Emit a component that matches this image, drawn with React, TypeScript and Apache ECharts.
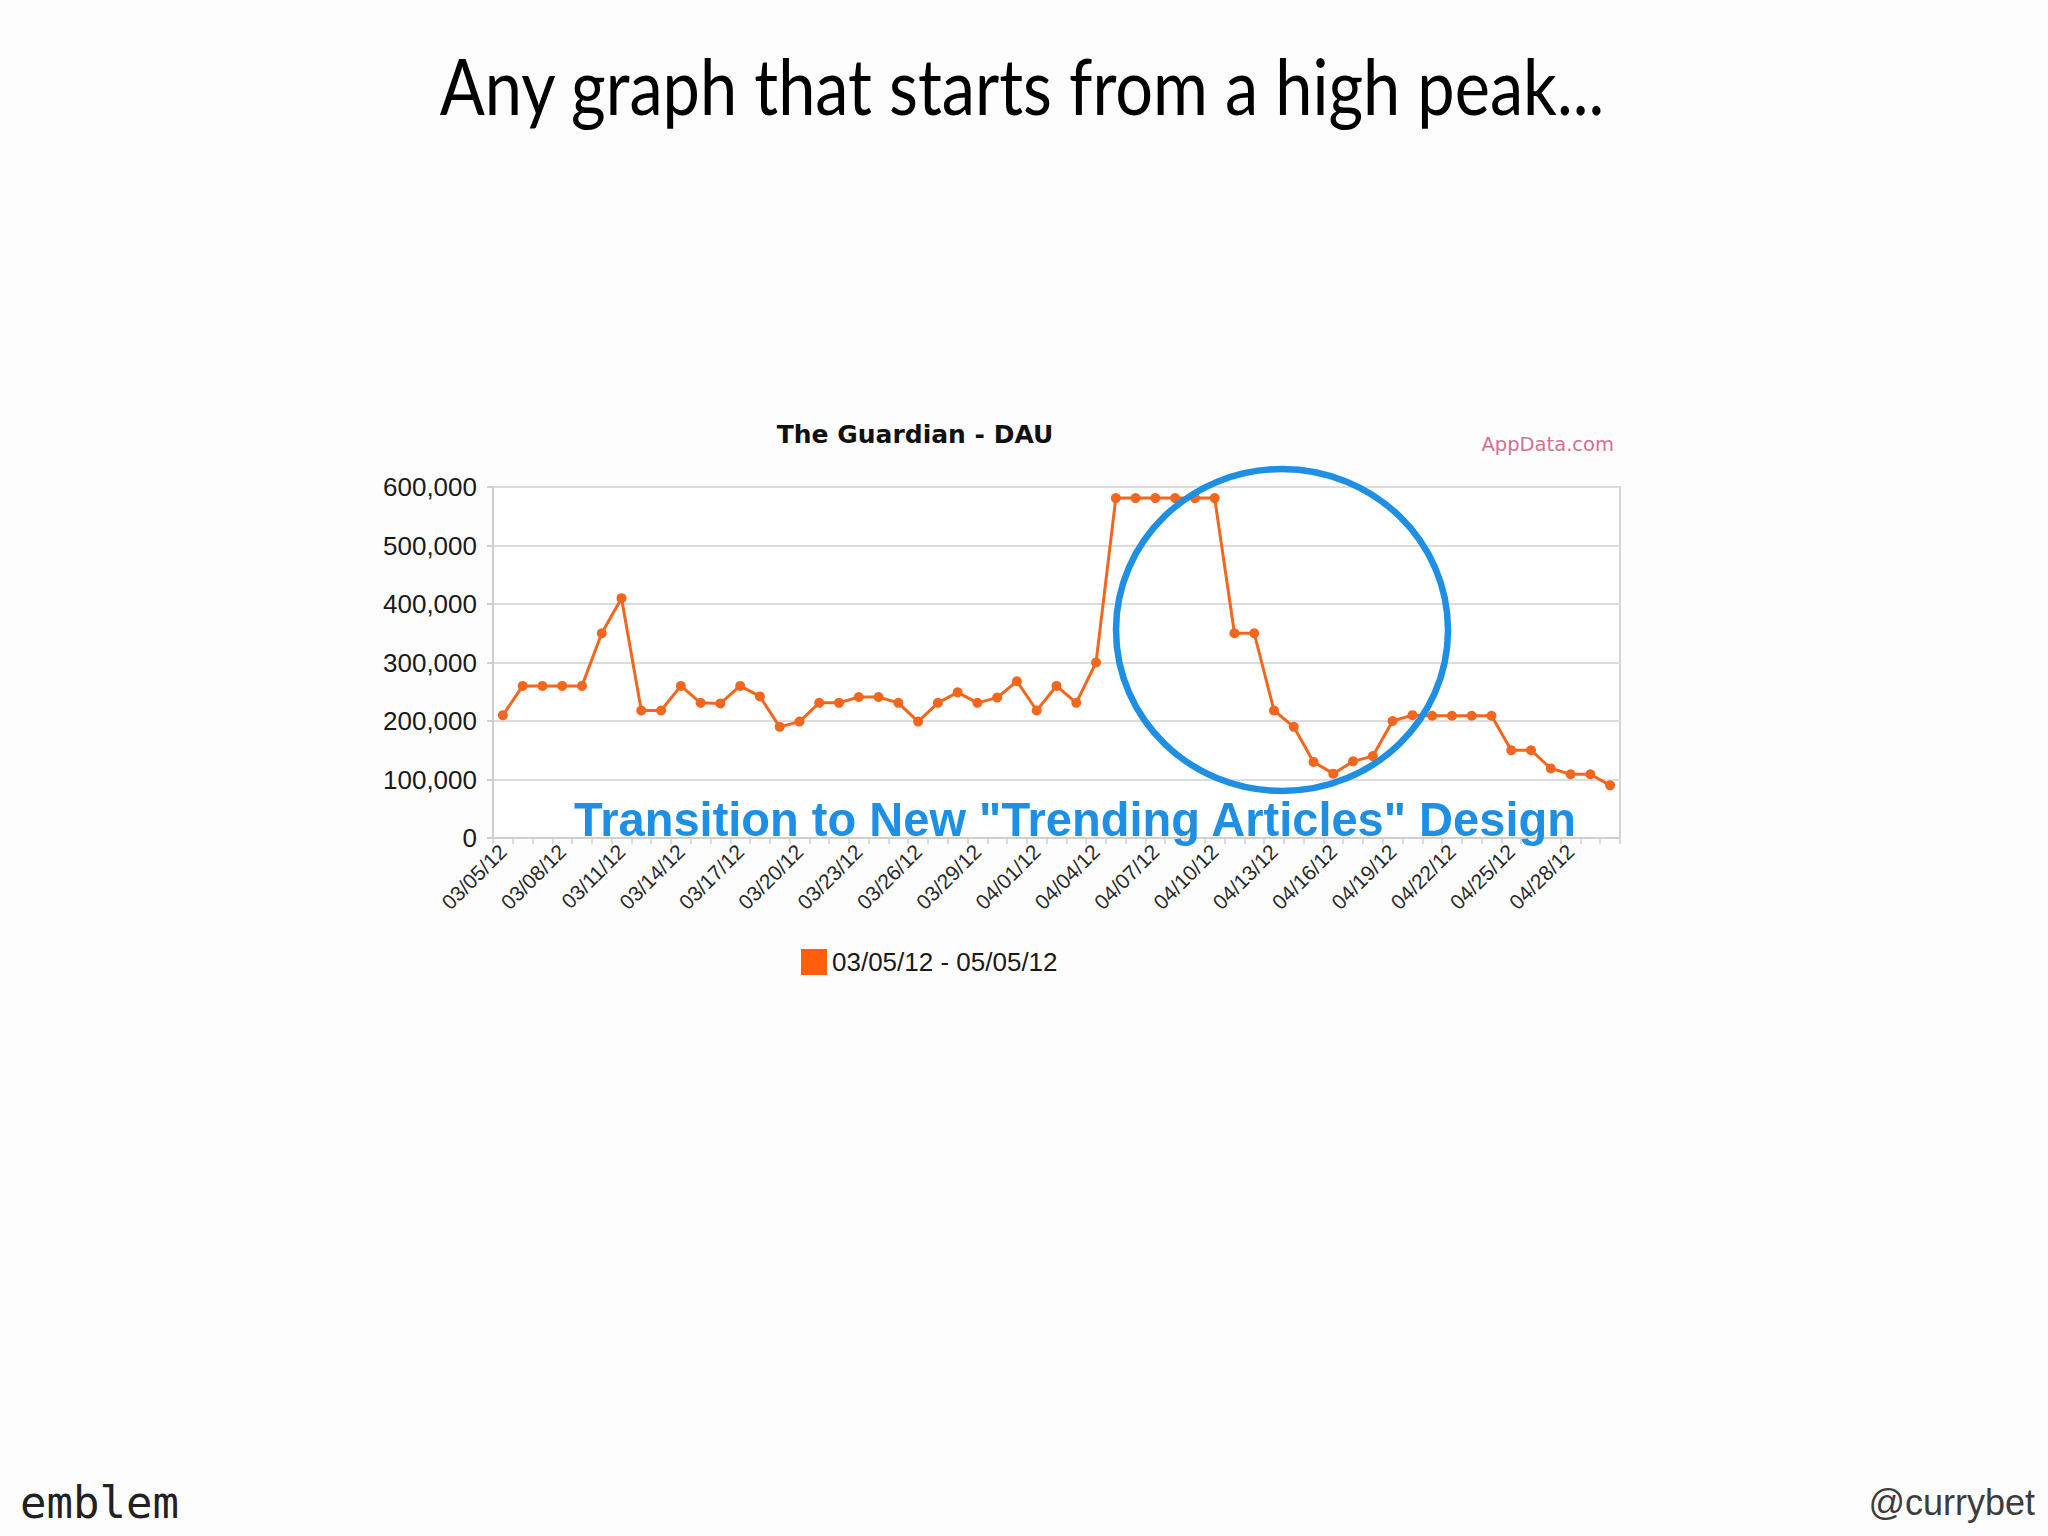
import React, { useEffect, useRef } from "react";
import * as echarts from "echarts";

const dates: string[] = [
  "03/05/12", "03/06/12", "03/07/12", "03/08/12", "03/09/12", "03/10/12", "03/11/12",
  "03/12/12", "03/13/12", "03/14/12", "03/15/12", "03/16/12", "03/17/12", "03/18/12",
  "03/19/12", "03/20/12", "03/21/12", "03/22/12", "03/23/12", "03/24/12", "03/25/12",
  "03/26/12", "03/27/12", "03/28/12", "03/29/12", "03/30/12", "03/31/12", "04/01/12",
  "04/02/12", "04/03/12", "04/04/12", "04/05/12", "04/06/12", "04/07/12", "04/08/12",
  "04/09/12", "04/10/12", "04/11/12", "04/12/12", "04/13/12", "04/14/12", "04/15/12",
  "04/16/12", "04/17/12", "04/18/12", "04/19/12", "04/20/12", "04/21/12", "04/22/12",
  "04/23/12", "04/24/12", "04/25/12", "04/26/12", "04/27/12", "04/28/12", "04/29/12",
  "04/30/12",
];

const dau: number[] = [
  210000, 260000, 260000, 260000, 260000, 350000, 410000,
  218000, 218000, 260000, 231000, 230000, 260000, 242000,
  190000, 199000, 231000, 231000, 241000, 241000, 231000,
  199000, 231000, 249000, 231000, 240000, 268000, 218000,
  260000, 231000, 300000, 581000, 581000, 581000, 581000,
  581000, 581000, 350000, 350000, 218000, 190000, 130000,
  110000, 131000, 140000, 200000, 210000, 209000, 209000,
  209000, 209000, 150000, 150000, 119000, 109000, 109000,
  90000,
];

const yTicks = { min: 0, max: 600000, interval: 100000 };
const seriesName = "03/05/12 - 05/05/12";
const slideTitle = "Any graph that starts from a high peak...";
const chartTitle = "The Guardian - DAU";
const sourceNote = "AppData.com";
const annotation = 'Transition to New "Trending Articles" Design';
const footerLeft = "emblem";
const footerRight = "@currybet";

const ORANGE = "#f2661e";
const BLUE = "#1f8fe3";

export default function App() {
  const ref = useRef<HTMLDivElement>(null);

  useEffect(() => {
    if (!ref.current) return;
    const chart = echarts.init(ref.current, undefined, { renderer: "svg" });
    chart.setOption({
      animation: false,
      backgroundColor: "#fefdfd",
      title: {
        text: chartTitle,
        left: 910,
        top: 417,
        textAlign: "center",
        textStyle: {
          fontFamily: "DejaVu Sans",
          fontWeight: "bold",
          fontSize: 25,
          color: "#111",
        },
      },
      legend: {
        left: 796,
        top: 944,
        icon: "rect",
        itemWidth: 26,
        itemHeight: 26,
        textStyle: {
          fontFamily: "Liberation Sans",
          fontSize: 26,
          color: "#1a1a1a",
        },
        data: [{ name: seriesName, itemStyle: { color: "#ff5e0e" } }],
      },
      grid: {
        left: 493,
        top: 487,
        right: 428,
        bottom: 698,
        show: true,
        borderColor: "#d4d4d4",
        borderWidth: 2,
        backgroundColor: "#ffffff",
      },
      xAxis: {
        type: "category",
        data: dates,
        boundaryGap: true,
        axisLine: { lineStyle: { color: "#cfcfcf", width: 2 } },
        axisTick: {
          show: true,
          interval: 0,
          length: 6,
          lineStyle: { color: "#cfcfcf", width: 1.5 },
        },
        axisLabel: {
          interval: 2,
          rotate: 45,
          margin: 10,
          fontFamily: "Liberation Sans",
          fontSize: 21,
          color: "#2a2a2a",
        },
        splitLine: { show: false },
      },
      yAxis: {
        type: "value",
        min: yTicks.min,
        max: yTicks.max,
        interval: yTicks.interval,
        axisLine: { show: true, lineStyle: { color: "#cfcfcf", width: 2 } },
        axisTick: { show: true, length: 6, lineStyle: { color: "#cfcfcf", width: 2 } },
        axisLabel: {
          margin: 16,
          fontFamily: "Liberation Sans",
          fontSize: 26,
          color: "#1a1a1a",
          formatter: (v: number) => v.toLocaleString("en-US"),
        },
        splitLine: { lineStyle: { color: "#dcdcdc", width: 2 } },
      },
      series: [
        {
          name: seriesName,
          type: "line",
          data: dau,
          symbol: "circle",
          symbolSize: 10,
          lineStyle: { color: ORANGE, width: 3 },
          itemStyle: { color: ORANGE },
          z: 3,
        },
      ],
      graphic: [
        {
          type: "text",
          x: 1022,
          y: 84,
          scaleX: 0.855,
          style: {
            text: slideTitle,
            fontFamily: "Lato",
            fontSize: 78,
            fill: "#000",
            textAlign: "center",
            align: "center",
            textVerticalAlign: "middle",
            verticalAlign: "middle",
          },
        },
        {
          type: "text",
          x: 1614,
          y: 444,
          style: {
            text: sourceNote,
            fontFamily: "DejaVu Sans",
            fontSize: 19.5,
            fill: "#d5708f",
            textAlign: "right",
            align: "right",
            textVerticalAlign: "middle",
            verticalAlign: "middle",
          },
        },
        {
          type: "ellipse",
          z: 10,
          shape: { cx: 1282, cy: 630, rx: 166, ry: 161 },
          style: { fill: "none", stroke: BLUE, lineWidth: 6.5 },
        },
        {
          type: "text",
          z: 10,
          x: 1075,
          y: 819,
          scaleX: 0.96,
          style: {
            text: annotation,
            fontFamily: "Liberation Sans",
            fontWeight: "bold",
            fontSize: 49,
            fill: BLUE,
            textAlign: "center",
            align: "center",
            textVerticalAlign: "middle",
            verticalAlign: "middle",
          },
        },
        {
          type: "text",
          x: 20,
          y: 1502,
          style: {
            text: footerLeft,
            fontFamily: "DejaVu Sans Mono",
            fontSize: 44,
            fill: "#222",
            textAlign: "left",
            align: "left",
            textVerticalAlign: "middle",
            verticalAlign: "middle",
          },
        },
        {
          type: "text",
          x: 2035,
          y: 1502,
          style: {
            text: footerRight,
            fontFamily: "Liberation Sans",
            fontSize: 36,
            fill: "#3c3c3c",
            textAlign: "right",
            align: "right",
            textVerticalAlign: "middle",
            verticalAlign: "middle",
          },
        },
      ],
    });
    return () => chart.dispose();
  }, []);

  return (
    <div
      ref={ref}
      style={{ position: "absolute", left: 0, top: 0, width: 2048, height: 1536 }}
    />
  );
}
